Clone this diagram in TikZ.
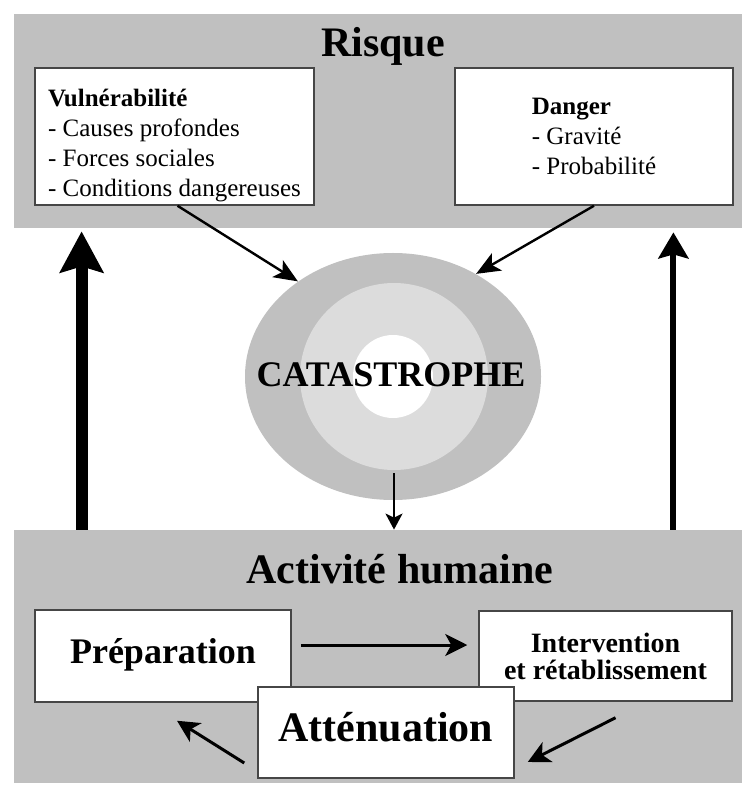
\documentclass[tikz,border=0pt]{standalone}
\usepackage{fontspec}
\setmainfont{Liberation Serif}
\usetikzlibrary{shapes.geometric,arrows.meta}
\definecolor{bandgray}{RGB}{192,192,192}
\definecolor{ringgray}{RGB}{220,220,220}
\definecolor{boxline}{RGB}{70,70,70}
\begin{document}
\begin{tikzpicture}
	[x=0.5pt, y=-0.5pt,
	band/.style={rectangle, fill=bandgray, inner sep=0pt},
	box/.style={rectangle, draw=boxline, line width=0.75pt, fill=white, inner sep=0pt},
	headline/.style={font=\fontsize{21}{25}\selectfont\bfseries, text height=0.98em, text depth=0.22em},
	listbox/.style={box, align=left, font=\fontsize{12.5}{15}\selectfont, minimum width=139.5pt, minimum height=68.5pt},
	ring/.style={ellipse, inner sep=0pt},
	feed/.style={line width=1.2pt, -{Stealth[length=12pt,width=10pt,inset=3pt]}},
	loopline/.style={line width=1.5pt, -{Stealth[length=11pt,width=11pt,inset=3pt]}}]

	\useasboundingbox (0,0) rectangle (742,795);

	% the two grey bands
	\node[band, minimum width=364pt, minimum height=107pt] (risque) at (378,121) {};
	\node[band, minimum width=364pt, minimum height=126.5pt] (activite) at (378,656.5) {};
	\node[headline] (risquetitle) at (383,49) {Risque};
	\node[headline] (activitetitle) at (400,576) {Activité humaine};

	% risk factors
	\node[listbox] (vul) at (174.5,136.5)
		{\rule{0pt}{18pt}\textbf{Vulnérabilité}\\- Causes profondes\\- Forces sociales\\- Conditions dangereuses};
	\node[listbox, minimum width=139pt] (danger) at (594,136.5)
		{\textbf{Danger}\\- Gravité\\- Probabilité};

	% the disaster rings
	\node[ring, fill=bandgray, minimum width=148pt, minimum height=123.5pt] (cata) at (393,376.5) {};
	\node[ring, fill=ringgray, minimum width=94pt, minimum height=93.5pt] (catamid) at (394,376.5) {};
	\node[ring, fill=white, minimum width=40pt, minimum height=41.5pt] (catacore) at (393,376.5) {};
	\node[font=\fontsize{18}{20}\selectfont\bfseries] (catalabel) at (391,375) {CATASTROPHE};

	% human activity cycle
	\node[box, minimum width=128pt, minimum height=46pt, font=\fontsize{18}{20}\selectfont\bfseries,
		text height=0.98em, text depth=0.22em] (prep) at (163,656) {Préparation};
	\node[box, align=center, minimum width=126.5pt, minimum height=45pt,
		font=\fontsize{14}{13.5}\selectfont\bfseries] (interv) at (605.5,656) {Intervention\\et rétablissement};
	\node[box, minimum width=128pt, minimum height=45.5pt, font=\fontsize{21}{25}\selectfont\bfseries,
		text height=1.08em, text depth=0.22em] (atten) at (386,732.5) {Atténuation};

	% connectors
	\draw[line width=6pt, -{Stealth[length=20.5pt,width=21.5pt,inset=3pt]}]
		([xshift=34pt]activite.north west) -- ([xshift=34pt,yshift=-1.5pt]risque.south west);
	\draw[line width=3pt, -{Stealth[length=13pt,width=15pt,inset=2pt]}]
		([xshift=-34.5pt]activite.north east) -- ([xshift=-34.5pt,yshift=-2pt]risque.south east);
	\draw[feed] ([xshift=1.5pt]vul.south) -- (cata.135);
	\draw[feed] (danger.south) -- (cata.51);
	\draw[line width=1pt, -{Stealth[length=8pt,width=8.5pt,inset=2pt]}]
		([yshift=-1.5pt]catamid.south) -- (catamid.south |- activite.north);
	\draw[loopline] ([xshift=4.5pt,yshift=5.5pt]prep.east) -- ([xshift=-5.5pt,yshift=5.5pt]interv.west);
	\draw[loopline] ([xshift=5pt,yshift=-8pt]interv.south) -- ([xshift=6.5pt,yshift=-14.75pt]atten.east);
	\draw[loopline] ([xshift=-6.5pt,yshift=-15.25pt]atten.west) -- ([xshift=7pt,yshift=-9pt]prep.south);
\end{tikzpicture}
\end{document}
